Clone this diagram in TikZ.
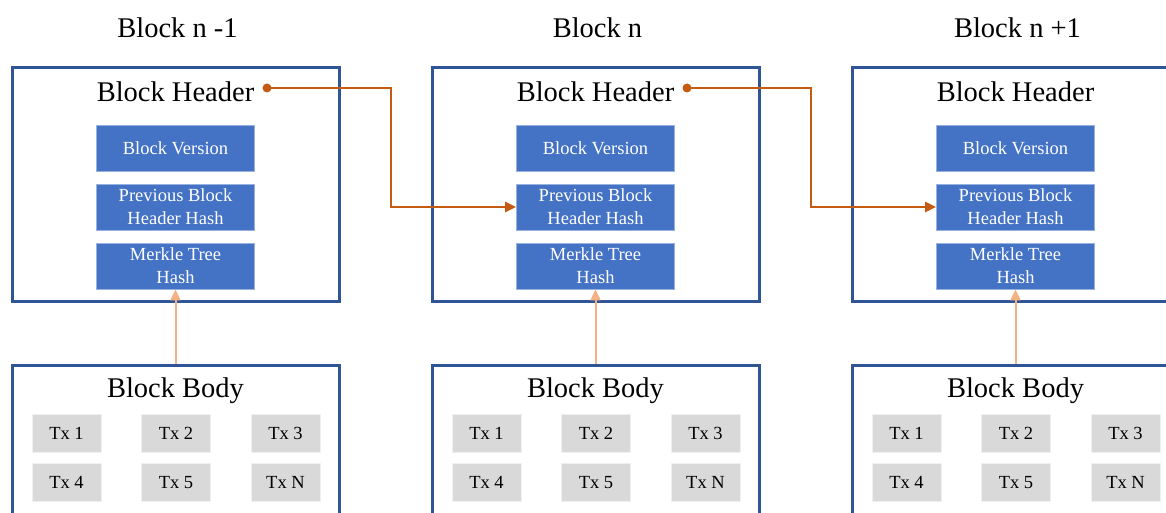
\documentclass[tikz,border=0pt]{standalone}
\usepackage{fontspec}
\setmainfont{Liberation Serif}
\usetikzlibrary{arrows.meta}
\definecolor{hdrblue}{HTML}{2F5597}
\definecolor{fieldblue}{HTML}{4472C4}
\definecolor{txgray}{HTML}{D9D9D9}
\definecolor{linkorange}{HTML}{C55A11}
\definecolor{mrkpeach}{HTML}{F4B183}
\tikzstyle{title} = [anchor=base, inner sep=0pt, font={\fontsize{28.5}{34}\selectfont}]
\tikzstyle{frame} = [draw=hdrblue, fill=white, line width=3pt, minimum width=327pt]
\tikzstyle{field} = [fill=fieldblue, draw=fieldblue!55!white, line width=0.8pt, text=white, align=center, minimum width=158pt, minimum height=46pt, inner sep=0pt, font={\fontsize{18.5}{23}\selectfont}]
\tikzstyle{tx} = [fill=txgray, draw=txgray!40!white, line width=0.8pt, minimum width=69pt, minimum height=38pt, inner sep=0pt, font={\fontsize{18.5}{22}\selectfont}]
\tikzstyle{dot} = [circle, fill=linkorange, inner sep=0pt, minimum size=9pt]
\tikzstyle{link} = [draw=linkorange, line width=2.4pt, ->]
\tikzstyle{merkle} = [draw=mrkpeach, line width=2pt, ->]

\begin{document}
\begin{tikzpicture}[x=1pt, y=-1pt, >={Triangle[length=11pt, width=10pt]}]
    \clip (0,0) rectangle (1166,513);
    \foreach \c/\x/\t in {1/175.5/{Block n -1}, 2/595.5/{Block n}, 3/1015.5/{Block n +1}} {
        \node[title](t\c) at (\x+2,37.5){\t};
        % header
        \node[frame, minimum height=233pt](hdr\c) at (\x,184.5){};
        \node[title](hl\c) at (\x,101.5){Block Header};
        \node[field](ver\c) at (\x,148.5){Block Version};
        \node[field](prev\c) at (\x,207){Previous Block\\Header Hash};
        \node[field](mrk\c) at (\x,266){Merkle Tree\\Hash};
        % body
        \node[frame, minimum height=195pt](body\c) at (\x,462.5){};
        \node[title](bl\c) at (\x,397.5){Block Body};
        \node[tx](tx1\c) at (\x-109,433){Tx 1};
        \node[tx](tx2\c) at (\x+0.5,433){Tx 2};
        \node[tx](tx3\c) at (\x+110,433){Tx 3};
        \node[tx](tx4\c) at (\x-109,482.5){Tx 4};
        \node[tx](tx5\c) at (\x+0.5,482.5){Tx 5};
        \node[tx](txn\c) at (\x+110,482.5){Tx N};
        \draw[merkle](body\c.north)--(mrk\c.south);
    }
    \node[dot](d1) at (267,88){};
    \node[dot](d2) at (687,88){};
    \draw[link](d1.center)--++(124,0)|-(prev2.west);
    \draw[link](d2.center)--++(124,0)|-(prev3.west);
\end{tikzpicture}
\end{document}
